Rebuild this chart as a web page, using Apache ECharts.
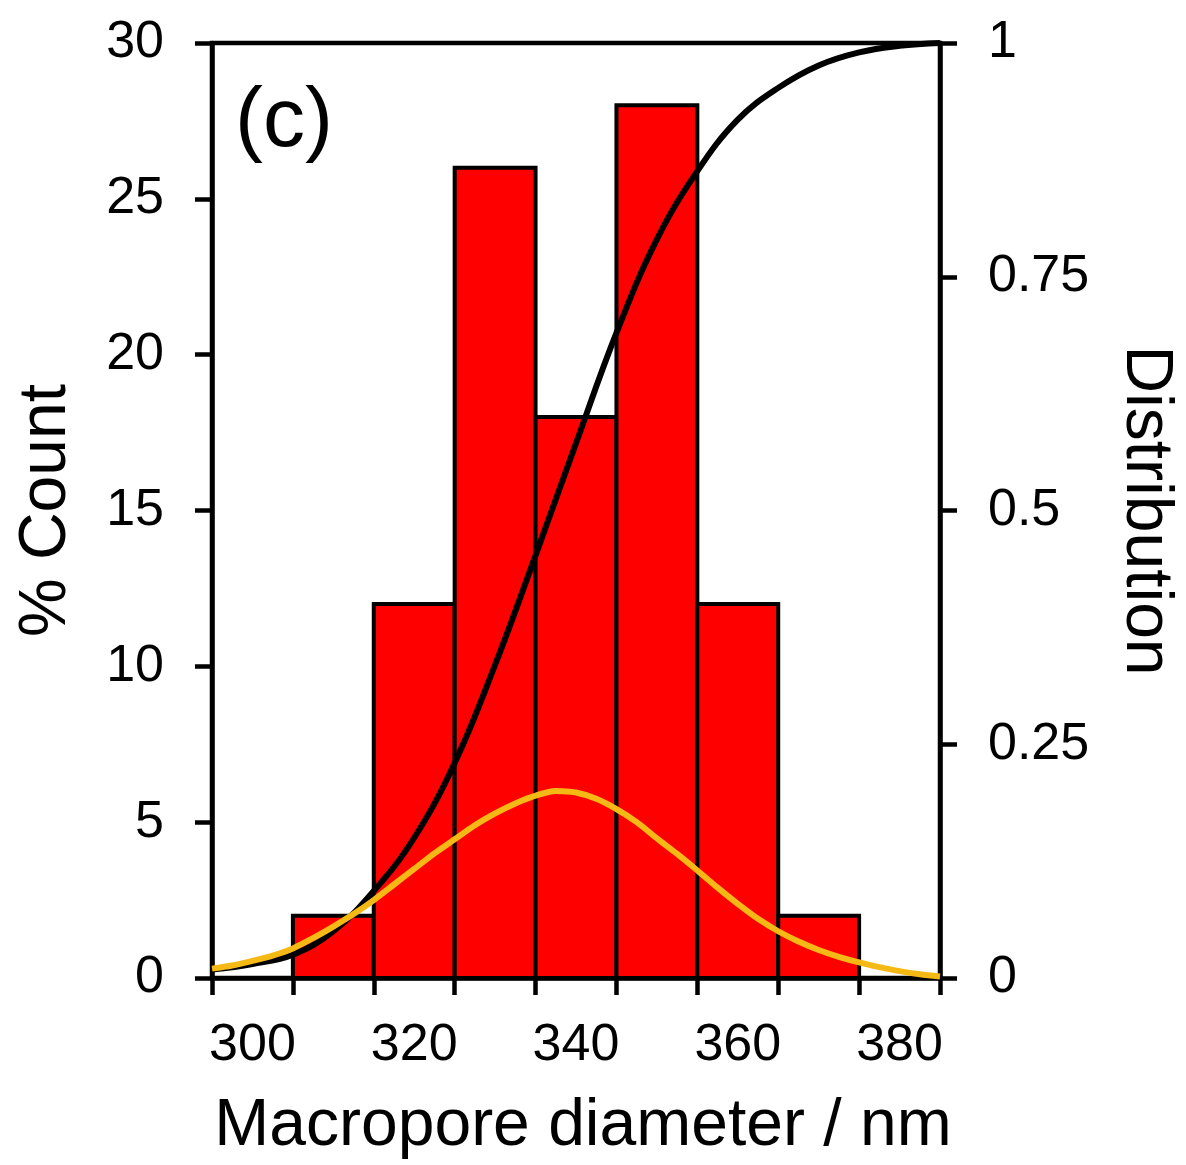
<!DOCTYPE html>
<html>
<head>
<meta charset="utf-8">
<title>Macropore diameter distribution</title>
<script src="https://cdn.jsdelivr.net/npm/echarts@6/dist/echarts.min.js"></script>
<style>
  html, body { margin: 0; padding: 0; background: #fff; }
  #chart { width: 1186px; height: 1165px; }
</style>
</head>
<body>
<div id="chart"></div>
<script>
// Histogram bins (centre of each 10 nm bin) and their share of counts in %
const binCenters = [310, 320, 330, 340, 350, 360, 370];
const binWidth = 10;
const percentCount = [2, 12, 26, 18, 28, 12, 2];

// Fitted normal curve (left axis, % count), sampled every 2.5 nm
const fitX = [295, 297.5, 300, 302.5, 305, 307.5, 310, 312.5, 315, 317.5, 320, 322.5, 325, 327.5,
              330, 332.5, 335, 337.5, 340, 342.5, 345, 347.5, 350, 352.5, 355, 357.5, 360, 362.5,
              365, 367.5, 370, 372.5, 375, 377.5, 380, 382.5, 385];
const fitY = [0.3, 0.4, 0.55, 0.72, 0.95, 1.28, 1.65, 2.05, 2.5, 3.0, 3.5, 4.0, 4.45, 4.9,
              5.28, 5.6, 5.85, 6.0, 5.95, 5.75, 5.42, 5.0, 4.48, 3.98, 3.45, 2.9, 2.38, 1.9,
              1.5, 1.17, 0.9, 0.68, 0.5, 0.35, 0.22, 0.12, 0.05];

// Cumulative distribution (right axis, 0..1)
const cdfX = [295, 300, 305, 310, 315, 320, 325, 330, 335, 340, 345, 350, 355, 360, 365, 370, 375, 380, 385];
const cdfY = [0.009, 0.015, 0.025, 0.05, 0.093, 0.15, 0.23, 0.335, 0.452, 0.572, 0.69, 0.79, 0.863, 0.918, 0.952, 0.976, 0.99, 0.997, 1.0];

// Axis ranges and labels
const xMin = 295, xMax = 385;
const xTickLabels = [300, 320, 340, 360, 380];
const binEdgeCount = 9; // tick marks sit on the bin edges, 10 nm apart

const FONT = '"Liberation Sans", Arial, sans-serif';
const chart = echarts.init(document.getElementById('chart'));

const axisLine = { show: true, lineStyle: { color: '#000', width: 4.5 } };
const tick = { show: true, inside: false, length: 17, lineStyle: { color: '#000', width: 4.5 } };
const labelStyle = { color: '#000', fontFamily: FONT, fontSize: 52 };
const nameStyle = { fontFamily: FONT, fontSize: 66, color: '#000' };

chart.setOption({
  animation: false,
  backgroundColor: '#fff',
  title: {
    text: '(c)',
    left: 230, top: 76,
    textStyle: { fontFamily: FONT, fontSize: 84, fontWeight: 'normal', color: '#000' }
  },
  grid: {
    left: 212, right: 243, top: 43, bottom: 187,
    show: true, borderColor: '#000', borderWidth: 4.5, backgroundColor: 'transparent'
  },
  xAxis: [
    {
      // value axis carrying the data and the labels
      type: 'value', position: 'bottom',
      min: xMin, max: xMax, interval: 5,
      axisLine: axisLine,
      axisTick: { show: false },
      splitLine: { show: false },
      axisLabel: Object.assign({}, labelStyle, {
        margin: 42,
        formatter: v => (xTickLabels.indexOf(v) >= 0 ? String(v) : '')
      }),
      name: 'Macropore diameter / nm',
      nameLocation: 'middle',
      nameGap: 116,
      nameTextStyle: Object.assign({}, nameStyle, { padding: [0, 0, 0, 14] })
    },
    {
      // tick marks on the bin edges
      type: 'value', position: 'bottom',
      min: 0, max: binEdgeCount * binWidth, interval: binWidth,
      axisLine: { show: false },
      axisTick: tick,
      axisLabel: { show: false },
      splitLine: { show: false }
    }
  ],
  yAxis: [
    {
      type: 'value', position: 'left',
      min: 0, max: 30, interval: 5,
      axisLine: axisLine, axisTick: tick,
      splitLine: { show: false },
      axisLabel: Object.assign({}, labelStyle, { margin: 48 }),
      name: '% Count', nameLocation: 'middle', nameRotate: 90, nameGap: 132,
      nameTextStyle: nameStyle
    },
    {
      type: 'value', position: 'right',
      min: 0, max: 1, interval: 0.25,
      axisLine: axisLine, axisTick: tick,
      splitLine: { show: false },
      axisLabel: Object.assign({}, labelStyle, { margin: 48 }),
      name: 'Distribution', nameLocation: 'middle', nameRotate: -90, nameGap: 172,
      nameTextStyle: nameStyle
    }
  ],
  series: [
    {
      type: 'custom',
      xAxisIndex: 0, yAxisIndex: 0,
      data: binCenters.map((c, i) => [c, percentCount[i]]),
      renderItem: function (params, api) {
        const c = api.value(0), h = api.value(1);
        const p0 = api.coord([c - binWidth / 2, 0]);
        const p1 = api.coord([c + binWidth / 2, h]);
        return {
          type: 'rect',
          shape: { x: p0[0], y: p1[1], width: p1[0] - p0[0], height: p0[1] - p1[1] },
          style: { fill: '#ff0000', stroke: '#000', lineWidth: 4 }
        };
      },
      z: 2
    },
    {
      type: 'line',
      xAxisIndex: 0, yAxisIndex: 1,
      data: cdfX.map((x, i) => [x, cdfY[i]]),
      smooth: 0.4, showSymbol: false,
      lineStyle: { color: '#000', width: 6 },
      z: 3
    },
    {
      type: 'line',
      xAxisIndex: 0, yAxisIndex: 0,
      data: fitX.map((x, i) => [x, fitY[i]]),
      smooth: 0.3, showSymbol: false,
      lineStyle: { color: '#f5b915', width: 6 },
      z: 4
    }
  ]
});
</script>
</body>
</html>
